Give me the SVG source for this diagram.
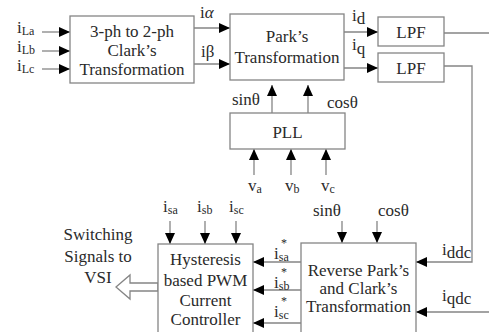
<svg xmlns="http://www.w3.org/2000/svg" width="489" height="332" viewBox="0 0 489 332" font-family="'Liberation Serif', 'DejaVu Serif', serif">
<style>
text{font-family:'Liberation Serif','DejaVu Serif',serif;font-size:17px;fill:#2a2a2a}
.c{text-anchor:middle}
.s{font-size:12px}
.box{fill:#fff;stroke:#858585;stroke-width:1.3}
.ln{fill:none;stroke:#858585;stroke-width:1.3}
.ar{marker-end:url(#ah)}
</style>
<defs>
<marker id="ah" markerUnits="userSpaceOnUse" markerWidth="11" markerHeight="10" refX="11" refY="5" orient="auto">
<path d="M0,0 L11,5 L0,10 z" fill="#000"/>
</marker>
</defs>
<rect width="489" height="332" fill="#fff"/>
<g id="connectors">
<path class="ln ar" d="M42,32 H70"/>
<path class="ln ar" d="M42,51 H70"/>
<path class="ln ar" d="M42,69 H70"/>
<path class="ln ar" d="M194,28 H230"/>
<path class="ln ar" d="M194,64 H230"/>
<path class="ln ar" d="M344,32 H378"/>
<path class="ln ar" d="M344,68 H378"/>
<path class="ln" d="M444,33 H489"/>
<path class="ln ar" d="M444,66 H472 V262 H416"/>
<path class="ln ar" d="M489,312 H416"/>
<path class="ln ar" d="M272,113 V85"/>
<path class="ln ar" d="M308,113 V85"/>
<path class="ln ar" d="M254,175 V149"/>
<path class="ln ar" d="M291,175 V149"/>
<path class="ln ar" d="M326,175 V149"/>
<path class="ln ar" d="M170,221 V244"/>
<path class="ln ar" d="M205,221 V244"/>
<path class="ln ar" d="M236,221 V244"/>
<path class="ln ar" d="M342,221 V243"/>
<path class="ln ar" d="M377,221 V243"/>
<path class="ln ar" d="M301,262 H253"/>
<path class="ln ar" d="M301,290 H253"/>
<path class="ln ar" d="M301,323 H253"/>
<polygon class="box" points="158,283 130,283 130,275 116,287 130,299 130,291 158,291"/>
</g>
<g id="labels">
<text x="17" y="33">i<tspan class="s" dy="2">La</tspan></text>
<text x="17" y="52">i<tspan class="s" dy="2">Lb</tspan></text>
<text x="17" y="71">i<tspan class="s" dy="2">Lc</tspan></text>
<text x="200" y="18">i<tspan font-style="italic">α</tspan></text>
<text x="201" y="57">iβ</text>
<text x="352" y="21">i<tspan dy="3">d</tspan></text>
<text x="352" y="50">i<tspan dy="4">q</tspan></text>
<text x="232" y="105">sinθ</text>
<text x="327" y="108">cosθ</text>
<text x="248" y="191">v<tspan class="s" dy="2">a</tspan></text>
<text x="285" y="191">v<tspan class="s" dy="2">b</tspan></text>
<text x="321" y="191">v<tspan class="s" dy="2">c</tspan></text>
<text x="163" y="212">i<tspan class="s" dy="2">sa</tspan></text>
<text x="197" y="212">i<tspan class="s" dy="2">sb</tspan></text>
<text x="229" y="212">i<tspan class="s" dy="2">sc</tspan></text>
<text x="313" y="216">sinθ</text>
<text x="378" y="216">cosθ</text>
<text x="274" y="259">i<tspan class="s" dy="2">sa</tspan></text>
<text x="281" y="247" class="s">*</text>
<text x="274" y="288">i<tspan class="s" dy="2">sb</tspan></text>
<text x="281" y="276" class="s">*</text>
<text x="274" y="317">i<tspan class="s" dy="2">sc</tspan></text>
<text x="281" y="305" class="s">*</text>
<text x="442" y="255">i<tspan dy="3">ddc</tspan></text>
<text x="442" y="301">i<tspan dy="3">qdc</tspan></text>
<text class="c" x="98" y="240">Switching</text>
<text class="c" x="98" y="262">Signals to</text>
<text class="c" x="98" y="283">VSI</text>
</g>
<g id="clark">
<rect class="box" x="70" y="16" width="124" height="67"/>
<text class="c" x="132" y="37">3-ph to 2-ph</text>
<text class="c" x="132" y="56">Clark’s</text>
<text class="c" x="132" y="75">Transformation</text>
</g>
<g id="park">
<rect class="box" x="230" y="14" width="114" height="66"/>
<text class="c" x="287" y="42">Park’s</text>
<text class="c" x="287" y="63">Transformation</text>
</g>
<g id="lpf1">
<rect class="box" x="378" y="17" width="66" height="29"/>
<text class="c" x="411" y="38">LPF</text>
</g>
<g id="lpf2">
<rect class="box" x="378" y="53" width="66" height="29"/>
<text class="c" x="411" y="74">LPF</text>
</g>
<g id="pll">
<rect class="box" x="230" y="113" width="115" height="36"/>
<text class="c" x="287.5" y="138">PLL</text>
</g>
<g id="hysteresis">
<rect class="box" x="158" y="244" width="95" height="100"/>
<text class="c" x="205.5" y="265">Hysteresis</text>
<text class="c" x="205.5" y="286">based PWM</text>
<text class="c" x="205.5" y="306">Current</text>
<text class="c" x="205.5" y="325">Controller</text>
</g>
<g id="reverse">
<rect class="box" x="301" y="243" width="115" height="100"/>
<text class="c" x="358.5" y="276">Reverse Park’s</text>
<text class="c" x="358.5" y="294">and Clark’s</text>
<text class="c" x="358.5" y="312">Transformation</text>
</g>
</svg>
